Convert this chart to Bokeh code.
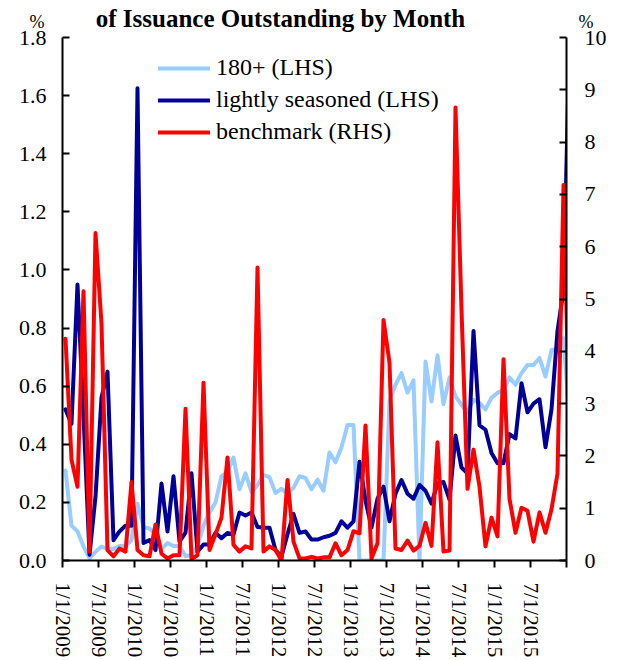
from bokeh.plotting import figure
from bokeh.layouts import column
from bokeh.models import (Range1d, LinearAxis, FixedTicker, Legend, LegendItem,
                          Label, PrintfTickFormatter)
from bokeh.embed import file_html
from bokeh.resources import INLINE

# Monthly observations, Jan 2009 (index 0) .. Jan 2016 (index 84)
month_index = list(range(85))

seasoned_180 = [0.31, 0.12, 0.10, 0.048, 0.008, 0.03, 0.048, 0.04, 0.04, 0.05,
                0.05, 0.07, 0.195, 0.115, 0.11, 0.09, 0.04, 0.06, 0.05, 0.05,
                0.015, 0.02, 0.05, 0.12, 0.165, 0.20, 0.29, 0.306, 0.354, 0.245,
                0.30, 0.235, 0.26, 0.295, 0.287, 0.232, 0.247, 0.23, 0.25, 0.29,
                0.284, 0.245, 0.278, 0.24, 0.372, 0.338, 0.39, 0.466, 0.466, 0.0,
                0.0, 0.0, 0.0, 0.0, 0.55, 0.605, 0.645, 0.578, 0.62, 0.0,
                0.685, 0.547, 0.706, 0.538, 0.63, 0.565, 0.536, 0.51, 0.553, 0.543,
                0.52, 0.56, 0.577, 0.587, 0.63, 0.605, 0.645, 0.673, 0.673, 0.697,
                0.633, 0.725, 0.725, 0.766, 0.48]

lightly_seasoned = [0.52, 0.47, 0.95, 0.50, 0.02, 0.22, 0.56, 0.65, 0.07, 0.10,
                    0.12, 0.12, 1.625, 0.06, 0.07, 0.036, 0.265, 0.10, 0.29, 0.065,
                    0.096, 0.30, 0.03, 0.055, 0.055, 0.095, 0.077, 0.095, 0.09, 0.165,
                    0.155, 0.165, 0.115, 0.113, 0.113, 0.036, 0.014, 0.09, 0.16, 0.095,
                    0.10, 0.072, 0.072, 0.08, 0.085, 0.095, 0.135, 0.113, 0.135, 0.34,
                    0.206, 0.113, 0.213, 0.254, 0.135, 0.23, 0.277, 0.23, 0.213, 0.26,
                    0.24, 0.196, 0.265, 0.27, 0.21, 0.43, 0.32, 0.30, 0.79, 0.465,
                    0.45, 0.37, 0.335, 0.335, 0.435, 0.42, 0.61, 0.51, 0.54, 0.555,
                    0.39, 0.52, 0.79, 0.93, 1.8]

benchmark = [4.24, 1.93, 1.41, 5.15, 0.17, 6.26, 4.53, 0.20, 0.08, 0.23,
             0.17, 1.50, 0.20, 0.10, 0.08, 0.69, 0.13, 0.04, 0.10, 0.10,
             2.90, 0.03, 0.10, 3.40, 0.20, 0.50, 0.82, 1.97, 0.30, 0.17,
             0.27, 0.23, 5.60, 0.17, 0.27, 0.20, 0.0, 1.54, 0.36, 0.04,
             0.04, 0.07, 0.04, 0.06, 0.06, 0.33, 0.10, 0.20, 0.56, 0.52,
             2.58, 0.04, 0.33, 4.60, 3.78, 0.23, 0.20, 0.38, 0.19, 0.28,
             0.72, 0.28, 2.26, 0.17, 0.19, 8.66, 4.80, 1.37, 2.12, 1.41,
             0.27, 0.82, 0.46, 3.85, 1.18, 0.53, 1.01, 0.95, 0.36, 0.92,
             0.53, 0.98, 1.66, 7.18, 2.4]

tick_months = list(range(0, 85, 6))
tick_labels = ["1/1/2009", "7/1/2009", "1/1/2010", "7/1/2010", "1/1/2011",
               "7/1/2011", "1/1/2012", "7/1/2012", "1/1/2013", "7/1/2013",
               "1/1/2014", "7/1/2014", "1/1/2015", "7/1/2015", ""]
lhs_ticks = [0.0, 0.2, 0.4, 0.6, 0.8, 1.0, 1.2, 1.4, 1.6, 1.8]
rhs_ticks = [0, 1, 2, 3, 4, 5, 6, 7, 8, 9, 10]

title_text = "of Issuance Outstanding by Month"
unit_text = "%"
series_names = ["180+ (LHS)", "lightly seasoned (LHS)", "benchmark (RHS)"]

FONT = "Liberation Serif"
W = 617
HEAD_H = 40        # header strip height
OVERLAP = 16       # chart canvas slides up under the (empty) bottom of the header
B_LEFT, B_RIGHT = 62, 51

# ---- header strip: title, and the unit marker over each value axis ----
head = figure(width=W, height=HEAD_H, output_backend="svg", toolbar_location=None,
              title=None, x_range=Range1d(0, 1), y_range=Range1d(0, 1),
              x_axis_type=None, y_axis_type=None,
              min_border_left=B_LEFT, min_border_right=B_RIGHT,
              min_border_top=0, min_border_bottom=0)
head.outline_line_color = None
head.xgrid.visible = False
head.ygrid.visible = False
head.border_fill_alpha = 0
head.background_fill_alpha = 0

unit_pos = 0.475   # relative height of the unit marker inside the strip
for side, standoff in (("left", 18), ("right", 12)):
    ax = LinearAxis(ticker=FixedTicker(ticks=[unit_pos]),
                    major_label_overrides={unit_pos: unit_text})
    ax.axis_line_color = None
    ax.major_tick_line_color = None
    ax.minor_tick_line_color = None
    ax.major_tick_out = 0
    ax.major_tick_in = 0
    ax.major_label_standoff = standoff
    ax.major_label_text_font = FONT
    ax.major_label_text_font_size = "18px"
    ax.major_label_text_color = "black"
    head.add_layout(ax, side)

head.add_layout(Label(x=218, y=22, x_units="screen", y_units="screen",
                      text=title_text, text_align="center",
                      text_baseline="alphabetic", text_font=FONT,
                      text_font_style="bold", text_font_size="25px",
                      text_color="black"))

# ---- main chart ----
x = [m + 0.5 for m in month_index]   # points sit mid-month

p = figure(width=W, height=660 - HEAD_H + OVERLAP, output_backend="svg",
           toolbar_location=None, title=None,
           x_range=Range1d(0, 84), y_range=Range1d(0, 1.8),
           min_border_left=B_LEFT, min_border_right=B_RIGHT, min_border_top=13,
           min_border_bottom=99)
p.margin = (-OVERLAP, 0, 0, 0)
p.outline_line_color = None
p.xgrid.visible = False
p.ygrid.visible = False
p.border_fill_alpha = 0
p.extra_y_ranges = {"rhs": Range1d(0, 10)}

xa = p.xaxis[0]
xa.ticker = FixedTicker(ticks=tick_months)
xa.major_label_overrides = {t: lab for t, lab in zip(tick_months, tick_labels)}
xa.major_label_orientation = "vertical"
xa.major_tick_in = 0
xa.major_tick_out = 7
xa.minor_tick_line_color = None
xa.major_label_standoff = 15
xa.major_label_text_font = FONT
xa.major_label_text_font_size = "21px"
xa.major_label_text_color = "black"
xa.axis_line_width = 2
xa.major_tick_line_width = 2

ya = p.yaxis[0]
ya.ticker = FixedTicker(ticks=lhs_ticks)
ya.formatter = PrintfTickFormatter(format="%.1f")
ya.major_tick_in = 7
ya.major_tick_out = 0
ya.minor_tick_line_color = None
ya.major_label_standoff = 16
ya.major_label_text_font = FONT
ya.major_label_text_font_size = "22px"
ya.major_label_text_color = "black"
ya.axis_line_width = 2
ya.major_tick_line_width = 2

ra = LinearAxis(y_range_name="rhs", ticker=FixedTicker(ticks=rhs_ticks))
ra.major_tick_in = 7
ra.major_tick_out = 0
ra.minor_tick_line_color = None
ra.major_label_standoff = 18
ra.major_label_text_font = FONT
ra.major_label_text_font_size = "22px"
ra.major_label_text_color = "black"
ra.axis_line_width = 2
ra.major_tick_line_width = 2
p.add_layout(ra, "right")

r1 = p.line(x, seasoned_180, line_color="#99CCFF", line_width=4,
            line_join="round", line_cap="round")
r2 = p.line(x, lightly_seasoned, line_color="#000099", line_width=4,
            line_join="round", line_cap="round")
r3 = p.line(x, benchmark, line_color="#FF0000", line_width=4,
            line_join="round", line_cap="round", y_range_name="rhs")

legend = Legend(items=[LegendItem(label=series_names[0], renderers=[r1]),
                       LegendItem(label=series_names[1], renderers=[r2]),
                       LegendItem(label=series_names[2], renderers=[r3])],
                location=(96, 415), label_text_font=FONT,
                label_text_font_size="24px", label_text_color="black",
                glyph_width=52, glyph_height=26, label_height=26,
                label_standoff=6, spacing=5, padding=0, margin=0,
                border_line_alpha=0, background_fill_alpha=0)
p.add_layout(legend)

layout = column(head, p, spacing=0)
open("out.html", "w").write(file_html(layout, INLINE))
